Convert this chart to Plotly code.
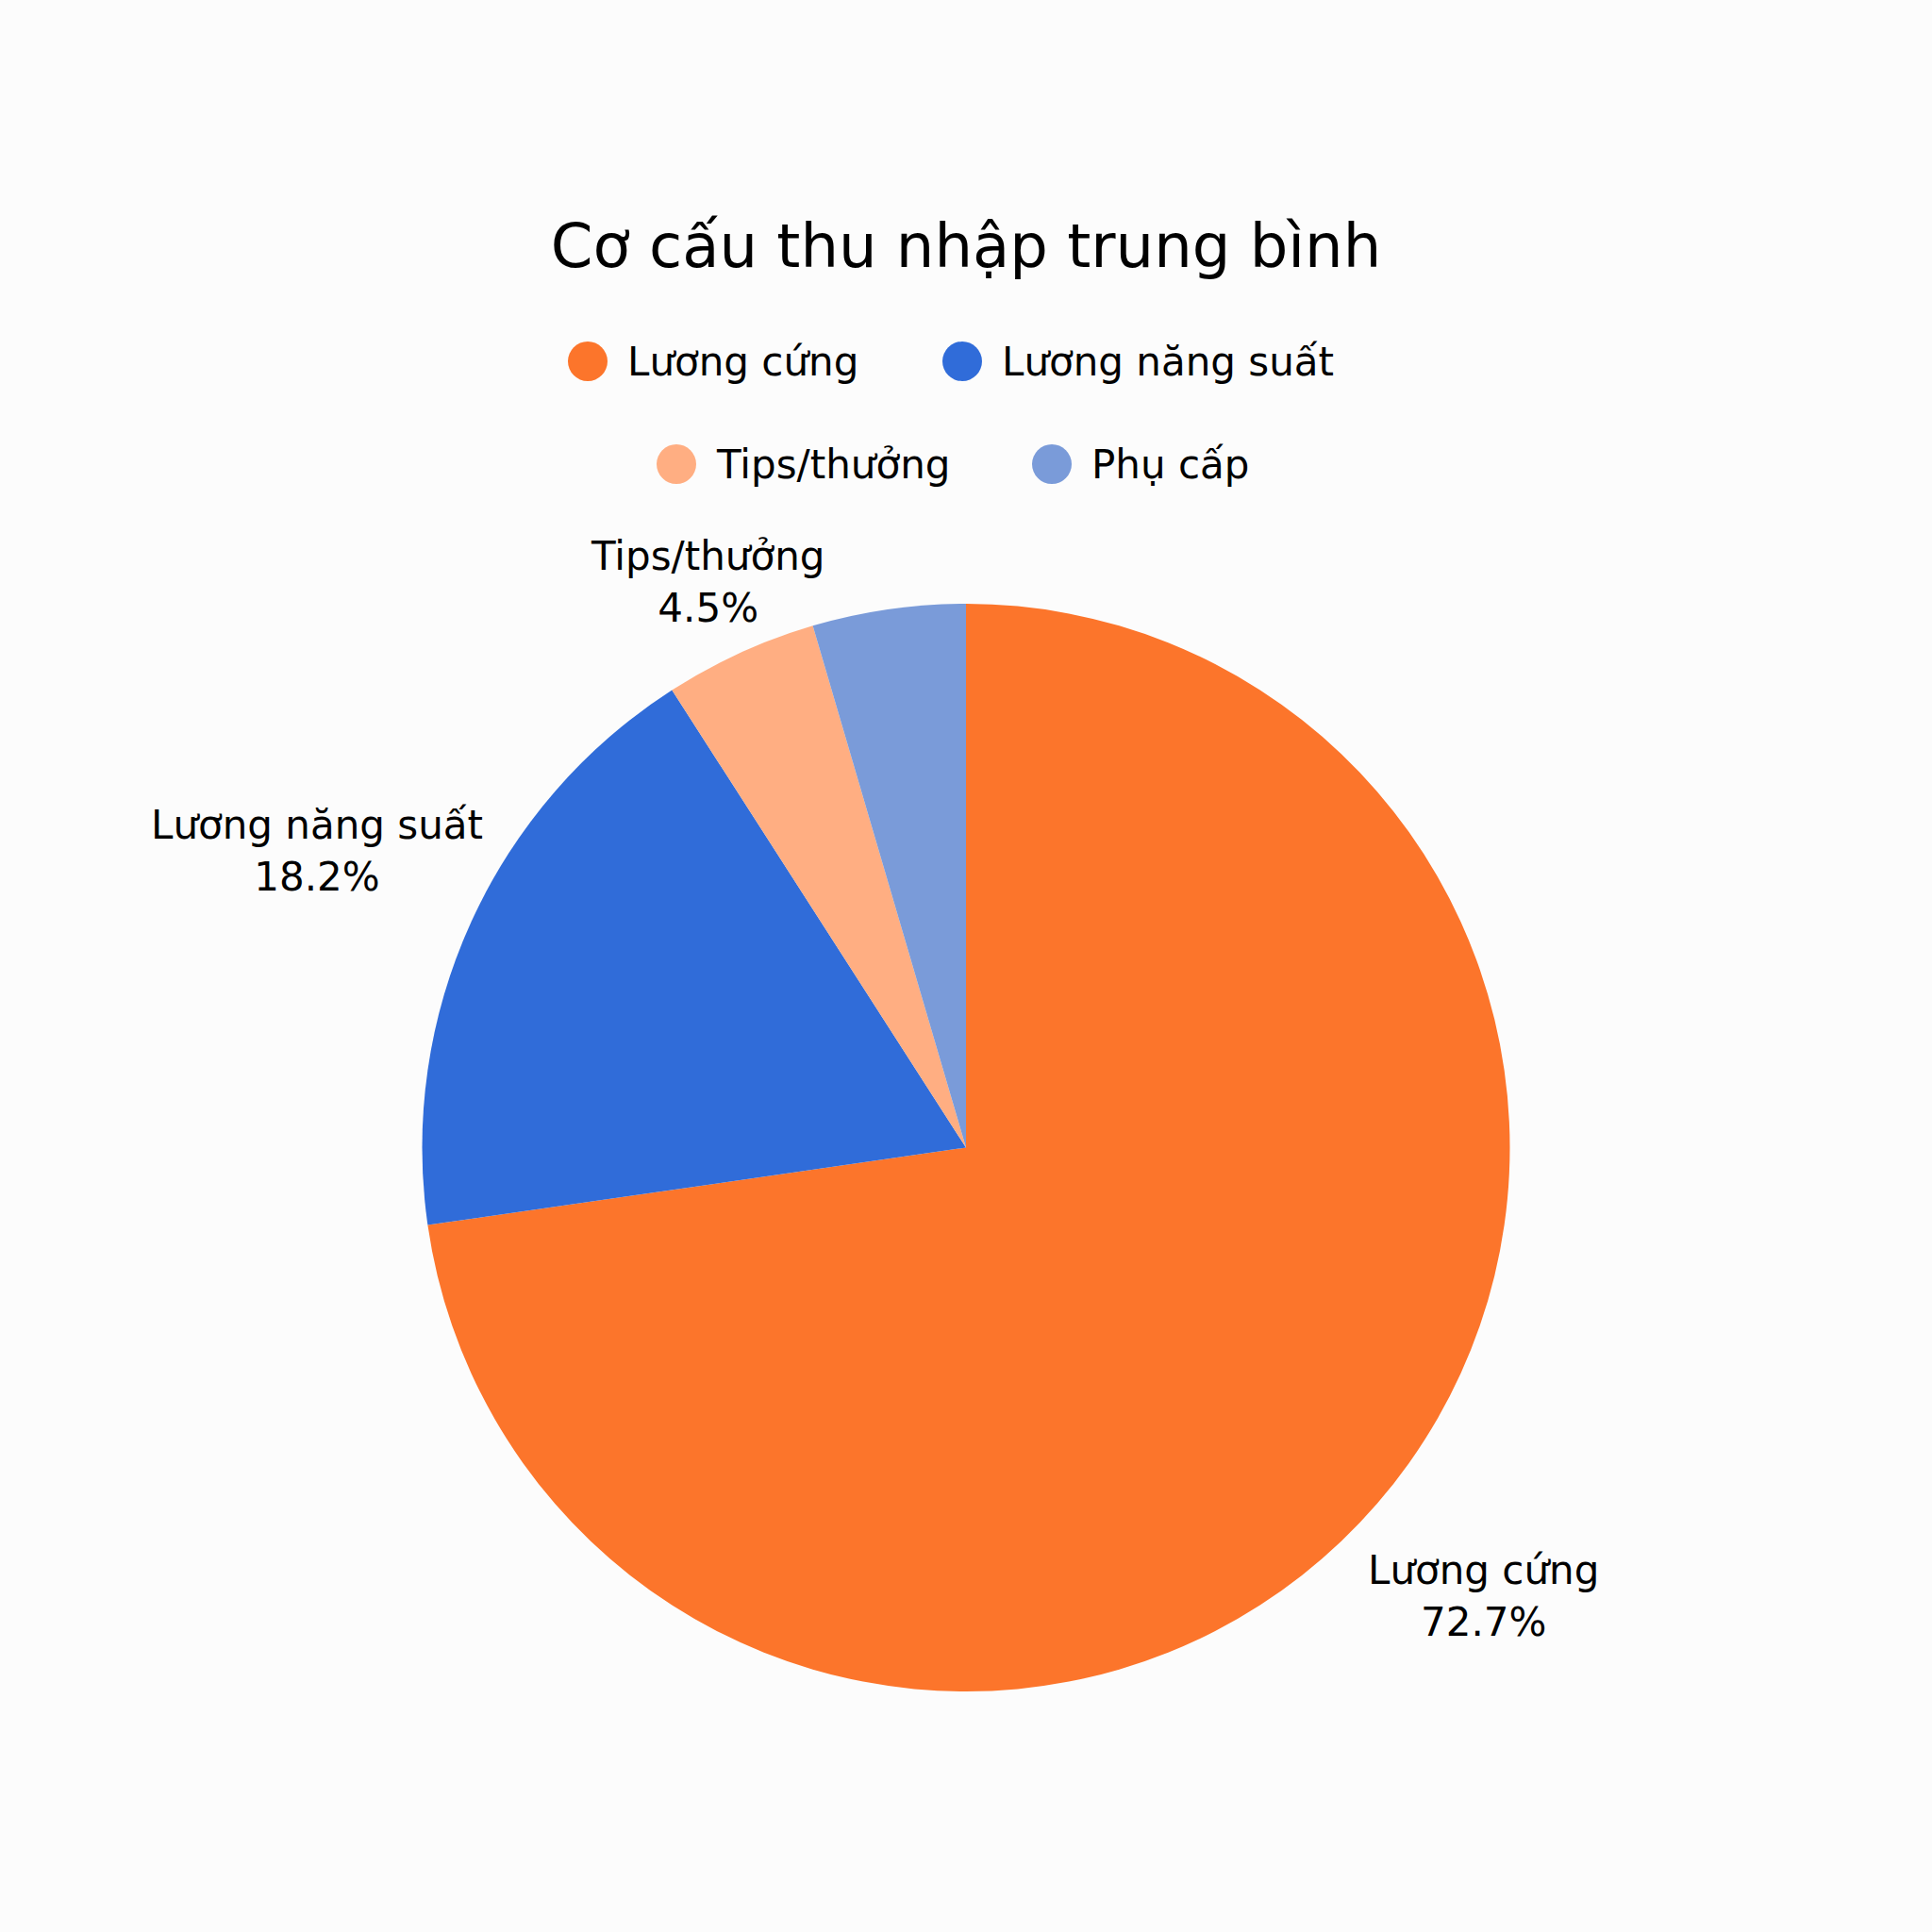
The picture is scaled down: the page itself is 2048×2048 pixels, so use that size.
import math
import plotly.graph_objects as go

# Data
labels = ["Lương cứng", "Lương năng suất", "Tips/thưởng", "Phụ cấp"]
values = [16, 4, 1, 1]
colors = ["#FC752B", "#306CD9", "#FFAE82", "#7A9BD9"]
# the Phụ cấp label is not shown in the original
show_label = [True, True, True, False]

title = "Cơ cấu thu nhập trung bình"

W = 2048
FONT = "DejaVu Sans"
LABEL_SIZE = 42

# legend is drawn by hand so the dots can be big circles (plotly caps them at 16px)
legend_cx = [623, 1020, 717, 1115]   # dot centre, px from left
legend_cy = [383, 383, 492, 492]     # px from top

pie_dom_y = [1 - 1793 / W, 1 - 640 / W]

fig = go.Figure()
fig.add_trace(go.Pie(
    labels=labels,
    values=values,
    sort=False,
    direction="clockwise",
    rotation=0,
    marker=dict(colors=colors, line=dict(width=0)),
    textinfo="none",
    showlegend=False,
    domain=dict(x=[0, 1], y=pie_dom_y),
))

annotations = []

# slice labels sit on the ray through the middle of each slice, outside the rim;
# they move further out the more sideways the slice points
cx = 0.5
cy = (pie_dom_y[0] + pie_dom_y[1]) / 2
R = (pie_dom_y[1] - pie_dom_y[0]) * W / 2
total = sum(values)
start = 0.0
for name, v, show in zip(labels, values, show_label):
    frac = v / total
    mid = (start + frac / 2) * 2 * math.pi
    start += frac
    if not show:
        continue
    sx, sy = math.sin(mid), math.cos(mid)
    d = R * (1 + 0.344 * abs(sx))
    annotations.append(dict(
        text=f"{name}<br>{frac:.1%}", xref="paper", yref="paper",
        x=cx + d * sx / W, y=cy + d * sy / W,
        xanchor="center", yanchor="middle", align="center", showarrow=False,
        font=dict(family=FONT, size=LABEL_SIZE, color="#000000"),
    ))

shapes = []
for name, col, lx, ly in zip(labels, colors, legend_cx, legend_cy):
    shapes.append(dict(
        type="circle", xref="paper", yref="paper",
        xsizemode="pixel", ysizemode="pixel",
        xanchor=lx / W, yanchor=1 - ly / W,
        x0=-21, x1=21, y0=-21, y1=21,
        fillcolor=col, line=dict(width=0),
    ))
    annotations.append(dict(
        text=name, xref="paper", yref="paper",
        x=(lx + 40) / W, y=1 - ly / W,
        xanchor="left", yanchor="middle", showarrow=False,
        font=dict(family=FONT, size=42, color="#000000"),
    ))

fig.update_layout(
    width=W,
    height=W,
    margin=dict(l=0, r=0, t=0, b=0, autoexpand=False),
    paper_bgcolor="#FCFCFC",
    plot_bgcolor="#FCFCFC",
    title=dict(
        text=title, x=0.5, xanchor="center",
        y=1 - 261 / W, yanchor="middle",
        font=dict(family=FONT, size=64, color="#000000"),
    ),
    shapes=shapes,
    annotations=annotations,
)

fig.write_html(
    "out.html",
    config={"displayModeBar": False},
    post_script="document.body.style.margin='0';",
)
